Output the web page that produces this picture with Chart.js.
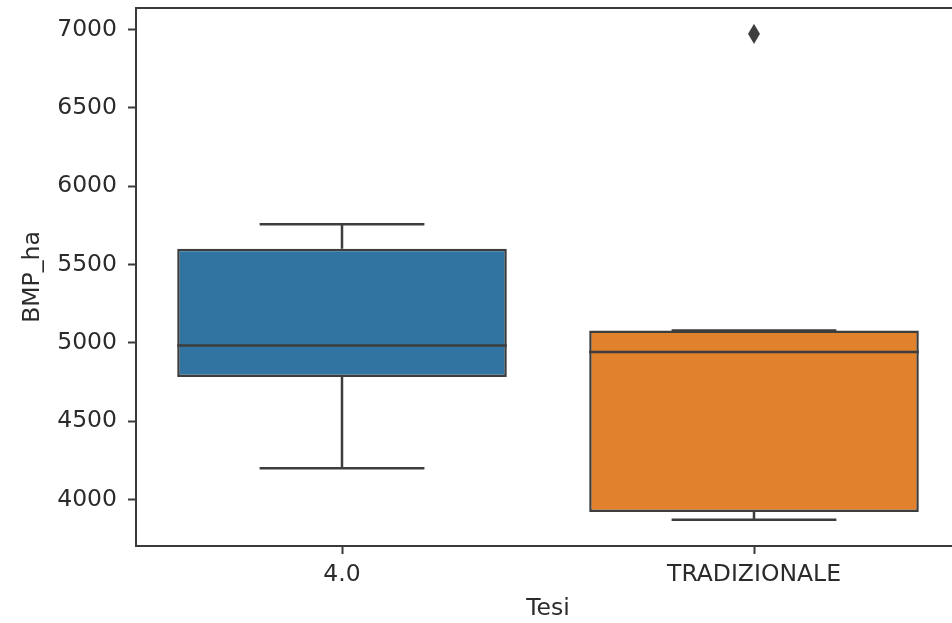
<!DOCTYPE html>
<html>
<head>
<meta charset="utf-8">
<script src="https://cdn.jsdelivr.net/npm/chart.js@4"></script>
<style>
  html, body { margin: 0; padding: 0; background: #fff; overflow: hidden; }
</style>
</head>
<body>
<!-- a bit wider than the window: the right spine sits just past the edge, as in the reference -->
<canvas id="chart" width="964" height="623"></canvas>
<script>
// box plot summary per category
const categories = ['4.0', 'TRADIZIONALE'];
const q1 = [4781, 3920];
const median = [4983, 4941];
const q3 = [5600, 5079];
const whiskerLow = [4200, 3871];
const whiskerHigh = [5756, 5079];
const outliers = [[], [6972]];
const yTicks = [4000, 4500, 5000, 5500, 6000, 6500, 7000];
const yMin = 3703;
const yMax = 7137;

const boxColors = ['#3274a1', '#e1812c'];
const edgeColor = '#3d3d3d';
const axisColor = '#3a3a3a';
const textColor = '#2b2b2b';
const fontFamily = "'DejaVu Sans', sans-serif";

// thin diamond, like matplotlib's 'd' marker
function diamondMarker(w, h, color) {
  const c = document.createElement('canvas');
  c.width = w; c.height = h;
  const g = c.getContext('2d');
  g.fillStyle = color;
  g.beginPath();
  g.moveTo(w / 2, 0);
  g.lineTo(w, h / 2);
  g.lineTo(w / 2, h);
  g.lineTo(0, h / 2);
  g.closePath();
  g.fill();
  return c;
}

// whiskers under the boxes, medians on top, and the axes frame
const boxParts = {
  id: 'boxParts',
  beforeDatasetsDraw(chart) {
    const { ctx, scales: { y } } = chart;
    const meta = chart.getDatasetMeta(0);
    ctx.save();
    ctx.strokeStyle = edgeColor;
    ctx.lineWidth = 2.5;
    meta.data.forEach((bar, i) => {
      const cx = bar.x;
      const half = bar.width / 4;
      const yLo = y.getPixelForValue(whiskerLow[i]);
      const yHi = y.getPixelForValue(whiskerHigh[i]);
      ctx.beginPath();
      ctx.moveTo(cx, yLo);
      ctx.lineTo(cx, y.getPixelForValue(q1[i]));
      ctx.moveTo(cx, y.getPixelForValue(q3[i]));
      ctx.lineTo(cx, yHi);
      ctx.moveTo(cx - half, yLo);
      ctx.lineTo(cx + half, yLo);
      ctx.moveTo(cx - half, yHi);
      ctx.lineTo(cx + half, yHi);
      ctx.stroke();
    });
    ctx.restore();
  },
  afterDatasetsDraw(chart) {
    const { ctx, scales: { y } } = chart;
    const meta = chart.getDatasetMeta(0);
    ctx.save();
    ctx.strokeStyle = edgeColor;
    ctx.lineWidth = 2.5;
    meta.data.forEach((bar, i) => {
      const ym = y.getPixelForValue(median[i]);
      ctx.beginPath();
      ctx.moveTo(bar.x - bar.width / 2, ym);
      ctx.lineTo(bar.x + bar.width / 2, ym);
      ctx.stroke();
    });
    const a = chart.chartArea;
    ctx.strokeStyle = axisColor;
    ctx.lineWidth = 2;
    ctx.strokeRect(a.left, a.top, a.right - a.left, a.bottom - a.top);
    ctx.restore();
  }
};

const outlierPoints = outliers.flatMap((vals, i) => vals.map(v => ({ x: categories[i], y: v })));

new Chart(document.getElementById('chart'), {
  type: 'bar',
  data: {
    labels: categories,
    datasets: [
      {
        label: 'box',
        data: categories.map((c, i) => [q1[i], q3[i]]),
        backgroundColor: boxColors,
        borderColor: edgeColor,
        borderWidth: 2.5,
        borderSkipped: false,
        barPercentage: 1,
        categoryPercentage: 0.8,
      },
      {
        type: 'line',
        label: 'outliers',
        data: outlierPoints,
        showLine: false,
        pointStyle: diamondMarker(12, 20, edgeColor),
        pointRadius: 10,
      }
    ]
  },
  options: {
    responsive: false,
    animation: false,
    // the point radius would otherwise push the plot area inwards
    layout: { autoPadding: false, padding: { top: 8, right: 4, left: 0, bottom: 0 } },
    plugins: { legend: { display: false }, tooltip: { enabled: false } },
    scales: {
      x: {
        grid: { offset: false, drawOnChartArea: false, drawTicks: true, tickLength: 8, tickColor: axisColor, tickWidth: 2 },
        border: { display: true, color: axisColor, width: 2 },
        ticks: { color: textColor, font: { family: fontFamily, size: 23.5 }, padding: 7, maxRotation: 0 },
        title: { display: true, text: 'Tesi', color: textColor, font: { family: fontFamily, size: 23.5 }, padding: { top: 0, bottom: 0 } },
        afterFit(scale) { scale.height = 77; scale.paddingLeft = 0; scale.paddingRight = 0; }
      },
      y: {
        min: yMin,
        max: yMax,
        afterBuildTicks(scale) { scale.ticks = yTicks.map(v => ({ value: v })); },
        grid: { drawOnChartArea: false, drawTicks: true, tickLength: 8, tickColor: axisColor, tickWidth: 2 },
        border: { display: true, color: axisColor, width: 2 },
        ticks: { color: textColor, font: { family: fontFamily, size: 23.5 }, padding: 11, callback: v => String(v) },
        title: { display: true, text: 'BMP_ha', color: textColor, font: { family: fontFamily, size: 23.5 }, padding: { top: 19, bottom: 0 } },
        afterFit(scale) { scale.width = 136; scale.paddingTop = 0; scale.paddingBottom = 0; }
      }
    }
  },
  plugins: [boxParts]
});
</script>
</body>
</html>
